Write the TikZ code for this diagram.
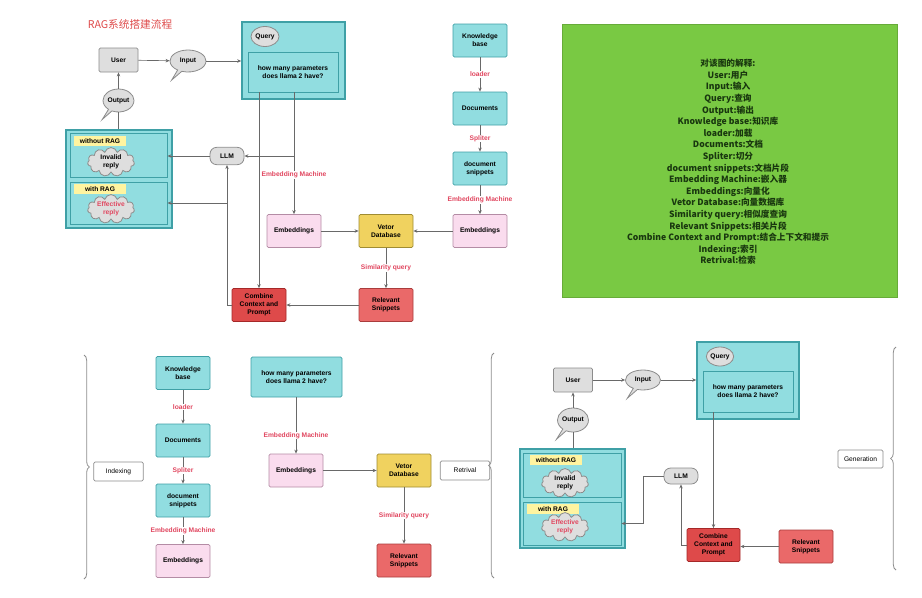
\documentclass[tikz,border=0pt]{standalone}
\usepackage{fontspec}
\setmainfont{Liberation Sans}
\newfontfamily\cjk{Noto Sans CJK SC}
\usetikzlibrary{arrows.meta,shapes.geometric,shapes.symbols,shapes.callouts,decorations.pathreplacing}

\definecolor{tealfill}{RGB}{145,221,224}
\definecolor{tealline}{RGB}{63,160,166}
\definecolor{greyfill}{RGB}{222,222,222}
\definecolor{greyline}{RGB}{140,140,140}
\definecolor{pinkfill}{RGB}{250,220,238}
\definecolor{pinkline}{RGB}{180,140,165}
\definecolor{yellowfill}{RGB}{240,210,95}
\definecolor{yellowline}{RGB}{160,140,50}
\definecolor{combfill}{RGB}{222,74,74}
\definecolor{combline}{RGB}{165,40,40}
\definecolor{relfill}{RGB}{234,105,105}
\definecolor{relline}{RGB}{170,60,60}
\definecolor{lblred}{RGB}{225,70,95}
\definecolor{notegreen}{RGB}{121,201,67}
\definecolor{notetext}{RGB}{25,55,15}
\definecolor{hilite}{RGB}{255,244,160}
\definecolor{wire}{RGB}{105,105,105}

\tikzset{every picture/.style={line width=0.75pt}}
\tikzset{
  boxfont/.style={font=\fontsize{5}{6}\selectfont\bfseries},
  basebox/.style={boxfont, rounded corners=1pt, align=center, inner sep=1pt, line width=0.6pt,
    minimum width=40.5pt, minimum height=24.75pt},
  tealbox/.style={basebox, draw=tealline, fill=tealfill},
  pinkbox/.style={basebox, draw=pinkline, fill=pinkfill},
  yellowbox/.style={basebox, draw=yellowline, fill=yellowfill},
  combbox/.style={basebox, draw=combline, fill=combfill},
  relbox/.style={basebox, draw=relline, fill=relfill},
  greybox/.style={basebox, draw=greyline, fill=greyfill, minimum width=29.25pt, minimum height=18pt},
  llmbox/.style={greybox, rounded corners=5pt, minimum width=25.5pt, minimum height=13pt},
  tagbox/.style={basebox, font=\fontsize{5}{6}\selectfont, draw=greyline, fill=white, minimum width=37pt, minimum height=14.25pt},
  bigbox/.style={draw=tealline, fill=tealfill, line width=1.2pt, inner sep=0pt},
  innerbox/.style={draw=tealline, fill=tealfill, line width=0.7pt, inner sep=0pt},
  bubble/.style={boxfont, ellipse callout, draw=greyline, fill=greyfill, line width=0.6pt, inner sep=0pt,
    callout relative pointer={(-6pt,-7pt)}},
  qbubble/.style={boxfont, ellipse, draw=greyline, fill=greyfill, line width=0.6pt, inner sep=0pt,
    minimum width=21pt, minimum height=15pt},
  cloudy/.style={boxfont, cloud, cloud puffs=11, aspect=2.2, draw=greyline, fill=greyfill, line width=0.6pt,
    align=center, inner sep=0pt, minimum width=33pt, minimum height=16pt},
  hl/.style={boxfont, fill=hilite, inner sep=1pt, minimum width=39pt, minimum height=7pt},
  lbl/.style={font=\fontsize{5}{6}\selectfont\bfseries, text=lblred, fill=white, inner sep=0.5pt},
  arr/.style={draw=wire, line width=0.5pt, -{Stealth[length=3pt,width=2.6pt]}},
  wireline/.style={draw=wire, line width=0.5pt},
  brace/.style={draw=greyline, line width=0.6pt, decorate, decoration={brace, amplitude=4pt}},
}

\begin{document}
\begin{tikzpicture}[x=0.75pt,y=0.75pt,yscale=-1,xscale=1]
\useasboundingbox (0,0) rectangle (922,597);

% Text Node
\node [text=combfill, font=\cjk\fontsize{8}{9}\selectfont] (title) at (130,24) {RAG系统搭建流程};

%%%%%%%% overview (top)
%Shape: Rectangle
\node [bigbox, minimum width=77.25pt, minimum height=57.75pt] (qbox) at (293.5,60.5) {};
\node [qbubble] (qbub) at (265,36.5) {Query};
\node [innerbox, boxfont, align=center, minimum width=67.5pt, minimum height=30pt] (qtext) at (293,72) {how many parameters\\does llama 2 have?};
\node [greybox] (user) at (118.5,60) {User};
\node [bubble, minimum width=27pt, minimum height=16.5pt] (input) at (188,61) {Input};
\node [bubble, minimum width=23.25pt, minimum height=17.25pt] (output) at (118.5,100.5) {Output};

%Shape: Rectangle
\node [bigbox, minimum width=79.5pt, minimum height=73.5pt] (resbox) at (119,179) {};
\node [innerbox, minimum width=72.75pt, minimum height=33pt] (norag) at (118.5,155) {};
\node [innerbox, minimum width=72.75pt, minimum height=31.5pt] (wrag) at (118.5,203) {};
\node [hl] (noraglbl) at (100,141) {without RAG};
\node [hl] (wraglbl) at (100,189) {with RAG};
\node [cloudy] (invalid) at (111,162) {Invalid\\reply};
\node [cloudy, text=lblred] (effective) at (111,209) {Effective\\reply};
\node [llmbox] (llm) at (227,156) {LLM};

\node [pinkbox] (emb1) at (294,231) {Embeddings};
\node [yellowbox] (vdb1) at (386,231) {Vetor\\Database};
\node [relbox] (rel1) at (386,305) {Relevant\\Snippets};
\node [combbox] (comb1) at (259,305) {Combine\\Context and\\Prompt};

\node [tealbox] (kb1) at (480,40.5) {Knowledge\\base};
\node [tealbox] (doc1) at (480,108.5) {Documents};
\node [tealbox] (snip1) at (480,168.5) {document\\snippets};
\node [pinkbox] (emb2) at (480,231) {Embeddings};

%Straight Lines
\draw [arr] (user) -- (input);
\draw [arr] (input) -- (input -| qbox.west);
\draw [wireline] (resbox.north -| output.south) -- (output.south);
\draw [arr] (output.north) -- (user.south);
\draw [arr] (qtext.south -| emb1.north) -- node [lbl, pos=0.68] {Embedding Machine} (emb1.north);
\draw [arr] (emb1.north |- llm.east) -- (llm.east);
\draw [arr] (qtext.south -| comb1.north) -- (comb1.north);
\draw [arr] (llm.west) -- (llm.west -| norag.east);
\draw [arr] (comb1.west) -| (llm.south);
\draw [arr] (llm.south |- wrag.east) -- (wrag.east);
\draw [arr] (emb1) -- (vdb1);
\draw [arr] (emb2) -- (vdb1);
\draw [arr] (vdb1) -- node [lbl] {Similarity query} (rel1);
\draw [arr] (rel1) -- (comb1);
\draw [arr] (kb1) -- node [lbl] {loader} (doc1);
\draw [arr] (doc1) -- node [lbl] {Spliter} (snip1);
\draw [arr] (snip1) -- node [lbl] {Embedding Machine} (emb2);

%Shape: Rectangle (note)
\node [draw=notegreen!85!black, fill=notegreen, minimum width=251.25pt, minimum height=204.75pt] (notebg) at (729.5,160.5) {};
\node [text=notetext, align=center, font=\cjk\fontsize{6.5}{8.7}\selectfont\bfseries] (note) at (728,162) {对该图的解释:\\User:用户\\Input:输入\\Query:查询\\Output:输出\\Knowledge base:知识库\\loader:加载\\Documents:文档\\Spliter:切分\\document snippets:文档片段\\Embedding Machine:嵌入器\\Embeddings:向量化\\Vetor Database:向量数据库\\Similarity query:相似度查询\\Relevant Snippets:相关片段\\Combine Context and Prompt:结合上下文和提示\\Indexing:索引\\Retrival:检索};

%%%%%%%% indexing (bottom left)
\draw [brace] (84,355) -- (84,579);
\node [tagbox] (idx) at (118.5,471.5) {Indexing};
\node [tealbox] (kb2) at (183,373) {Knowledge\\base};
\node [tealbox] (doc2) at (183,440.5) {Documents};
\node [tealbox] (snip2) at (183,500.5) {document\\snippets};
\node [pinkbox] (emb3) at (183,561) {Embeddings};
\draw [arr] (kb2) -- node [lbl] {loader} (doc2);
\draw [arr] (doc2) -- node [lbl] {Spliter} (snip2);
\draw [arr] (snip2) -- node [lbl] {Embedding Machine} (emb3);

%%%%%%%% retrival (bottom middle)
\node [tealbox, minimum width=68.25pt, minimum height=30pt] (q2) at (296.5,377) {how many parameters\\does llama 2 have?};
\node [pinkbox] (emb4) at (296,470.5) {Embeddings};
\node [yellowbox] (vdb2) at (404,470.5) {Vetor\\Database};
\node [tagbox] (ret) at (465,470.5) {Retrival};
\node [relbox] (rel2) at (404,560.5) {Relevant\\Snippets};
\draw [arr] (q2.south -| emb4.north) -- node [lbl, pos=0.68] {Embedding Machine} (emb4.north);
\draw [arr] (emb4) -- (vdb2);
\draw [arr] (vdb2) -- node [lbl] {Similarity query} (rel2);
\draw [brace] (494,578) -- (494,353);

%%%%%%%% generation (bottom right)
\node [greybox] (user2) at (573,380) {User};
\node [bubble, minimum width=26.25pt, minimum height=15pt] (input2) at (643,380) {Input};
\node [bigbox, minimum width=76.5pt, minimum height=57.75pt] (qbox2) at (748,380.5) {};
\node [qbubble, minimum width=20pt, minimum height=14.25pt] (qbub2) at (720,356.5) {Query};
\node [innerbox, boxfont, align=center, minimum width=67.5pt, minimum height=30.75pt] (qtext2) at (748,391.5) {how many parameters\\does llama 2 have?};
\node [bubble, minimum width=23.25pt, minimum height=18pt] (output2) at (573,420) {Output};

\node [bigbox, minimum width=78.75pt, minimum height=74.25pt] (resbox2) at (572.5,498.5) {};
\node [innerbox, minimum width=73.5pt, minimum height=33pt] (norag2) at (572,475) {};
\node [innerbox, minimum width=73.5pt, minimum height=32.25pt] (wrag2) at (572,523.5) {};
\node [hl] (noraglbl2) at (556,460) {without RAG};
\node [hl] (wraglbl2) at (553,509) {with RAG};
\node [cloudy] (invalid2) at (565,483) {Invalid\\reply};
\node [cloudy, text=lblred] (effective2) at (565,527) {Effective\\reply};
\node [llmbox, minimum height=12pt] (llm2) at (681,476) {LLM};
\node [combbox, minimum width=39.75pt] (comb2) at (713.5,545) {Combine\\Context and\\Prompt};
\node [relbox] (rel3) at (806,546.5) {Relevant\\Snippets};
\node [tagbox, minimum width=33.75pt, minimum height=13.5pt] (gen) at (860.5,459) {Generation};
\coordinate (bend) at (643,523.5);

\draw [arr] (user2) -- (input2);
\draw [arr] (input2) -- (input2 -| qbox2.west);
\draw [wireline] (resbox2.north -| output2.south) -- (output2.south);
\draw [arr] (output2.north) -- (user2.south);
\draw [arr] (qtext2.south -| comb2.north) -- (comb2.north);
\draw [arr] (comb2.west) -| (llm2.south);
\draw [arr] (llm2.west) -| (bend) -- (wrag2.east);
\draw [arr] (rel3.west) -- (rel3.west -| comb2.east);
\draw [brace] (896,570) -- (896,347);

\end{tikzpicture}
\end{document}
